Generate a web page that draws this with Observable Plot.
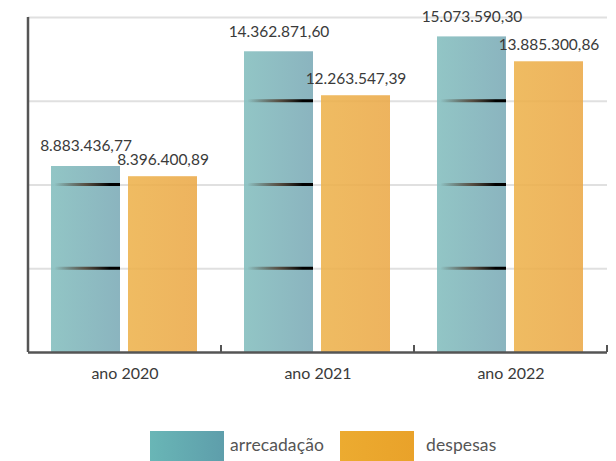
<!DOCTYPE html>
<html><head><meta charset="utf-8">
<script src="https://cdn.jsdelivr.net/npm/d3@7"></script>
<script src="https://cdn.jsdelivr.net/npm/@observablehq/plot@0.6"></script>
<style>
body{margin:0;background:#fff;font-family:Lato,sans-serif;width:616px;height:461px;overflow:hidden;}
#legend{position:relative;height:61px;}
.sw{position:absolute;top:31px;width:74px;height:30px;}
.lb{position:absolute;top:34px;font-size:17.5px;color:#555;line-height:22px;letter-spacing:0.1px;}
</style></head><body>
<div id="chart"></div>
<div id="legend"></div>
<script>
const years = ["ano 2020", "ano 2021", "ano 2022"];
const series = ["arrecadação", "despesas"];
const arrecadacao = [8883436.77, 14362871.60, 15073590.30];
const despesas = [8396400.89, 12263547.39, 13885300.86];
const yTicks = [0, 4e6, 8e6, 12e6, 16e6];

const fmt = d3.formatLocale({decimal: ",", thousands: ".", grouping: [3], currency: ["R$", ""]}).format(",.2f");

const rows = years.flatMap((y, i) => [
  {year: y, serie: series[0], value: arrecadacao[i]},
  {year: y, serie: series[1], value: despesas[i]}
]);
const yMax = yTicks[yTicks.length - 1];
const half = 0.072e6;
const darkLines = rows.filter(d => d.serie === series[0])
  .flatMap(d => yTicks.filter(t => t > 0 && t < d.value).map(t => ({year: d.year, serie: d.serie, tick: t})));

const plot = Plot.plot({
  width: 616, height: 400,
  marginTop: 17, marginBottom: 48, marginLeft: 27, marginRight: 8,
  style: {fontFamily: "Lato, sans-serif", fontSize: "16px", color: "#3a3a3a", background: "transparent", overflow: "visible"},
  fx: {domain: years, padding: 0, label: null, axis: "bottom", tickSize: 0, tickPadding: 15},
  x: {domain: series, paddingInner: 0.103, paddingOuter: 0.295, axis: null},
  y: {domain: [0, yMax], axis: null},
  marks: [
    Plot.ruleY(yTicks.slice(1), {stroke: "#e0e0e0", strokeWidth: 2}),
    Plot.barY(rows.filter(d => d.serie === series[0]), {fx: "year", x: "serie", y: "value", fill: "url(#gTeal)", fillOpacity: 0.9}),
    Plot.barY(rows.filter(d => d.serie === series[1]), {fx: "year", x: "serie", y: "value", fill: "url(#gOrange)", fillOpacity: 0.88}),
    Plot.barY(darkLines, {fx: "year", x: "serie", y1: d => d.tick - half, y2: d => d.tick + half, fill: "url(#gDark)"}),
    Plot.ruleY([0], {stroke: "#555", strokeWidth: 2.5}),
    Plot.ruleX([years[0]], {fx: d => d, x: () => series[0], dx: -58, y1: 0, y2: yMax, stroke: "#555", strokeWidth: 2.5}),
    Plot.ruleX(years, {fx: d => d, x: () => series[1], dx: 58, y1: 0, y2: 0.33e6, stroke: "#555", strokeWidth: 2}),
    Plot.text(rows.filter(d => d.serie === series[0]), {fx: "year", x: "serie", y: "value", text: d => fmt(d.value), dy: -20, fontSize: 15.5, fill: "#3a3a3a"}),
    Plot.text(rows.filter(d => d.serie === series[1]), {fx: "year", x: "serie", y: "value", text: d => fmt(d.value), dy: -17, fontSize: 15.5, fill: "#3a3a3a"})
  ]
});

const defs = document.createElementNS("http://www.w3.org/2000/svg", "defs");
defs.innerHTML = `
<linearGradient id="gTeal" x1="0" x2="1" y1="0" y2="0"><stop offset="0" stop-color="#86bfbf"/><stop offset="1" stop-color="#7eacb8"/></linearGradient>
<linearGradient id="gOrange" x1="0" x2="1" y1="0" y2="0"><stop offset="0" stop-color="#edb24c"/><stop offset="1" stop-color="#eba948"/></linearGradient>
<linearGradient id="gDark" x1="0" x2="1" y1="0" y2="0"><stop offset="0.05" stop-color="#3a2a1a" stop-opacity="0"/><stop offset="0.5" stop-color="#4a3525" stop-opacity="0.8"/><stop offset="0.85" stop-color="#000"/><stop offset="1" stop-color="#000"/></linearGradient>`;
plot.prepend(defs);
document.getElementById("chart").appendChild(plot);

const legend = document.getElementById("legend");
const legendItems = [
  {name: series[0], grad: "linear-gradient(90deg,#69b6b6,#5e9eab)", sw: 150, lb: 230},
  {name: series[1], grad: "linear-gradient(90deg,#ecab30,#e9a22a)", sw: 340, lb: 426}
];
for (const it of legendItems) {
  const s = document.createElement("div"); s.className = "sw"; s.style.left = it.sw + "px"; s.style.background = it.grad;
  const l = document.createElement("div"); l.className = "lb"; l.style.left = it.lb + "px"; l.textContent = it.name;
  legend.append(s, l);
}
</script>
</body></html>
